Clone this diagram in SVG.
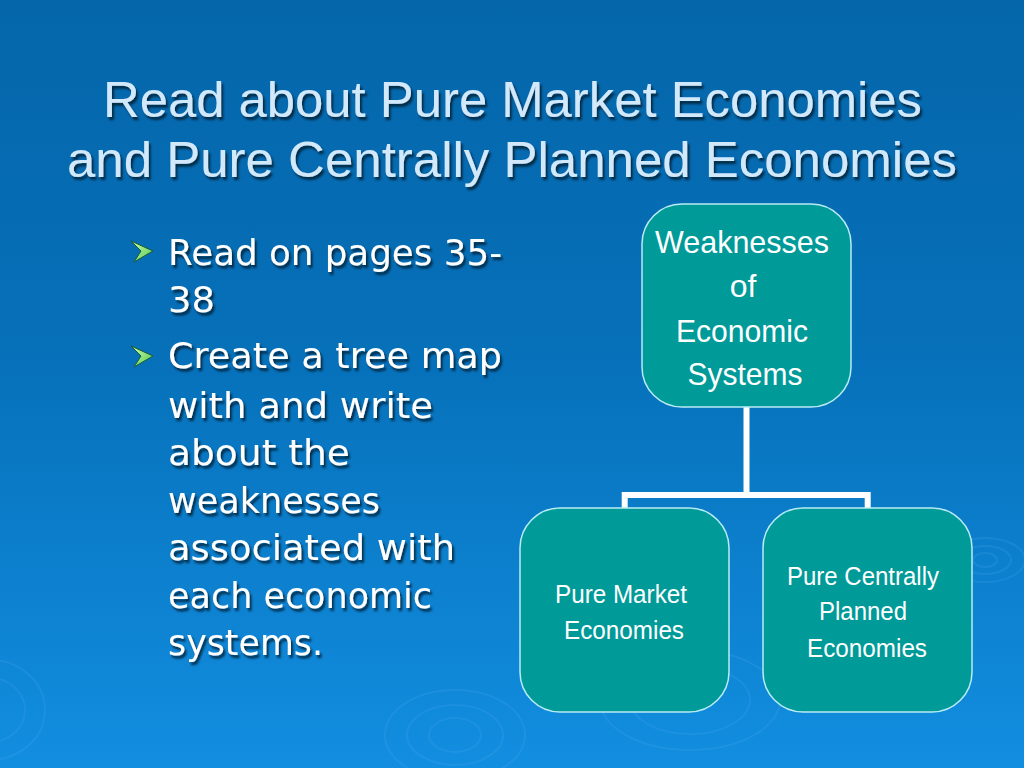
<svg xmlns="http://www.w3.org/2000/svg" width="1024" height="768" viewBox="0 0 1024 768">
<defs>
<linearGradient id="bg" x1="0" y1="0" x2="0" y2="1">
<stop offset="0" stop-color="#0566aa"/>
<stop offset="0.45" stop-color="#0670b9"/>
<stop offset="1" stop-color="#128ee0"/>
</linearGradient>
<linearGradient id="arrowFill" x1="0" y1="0" x2="1" y2="1">
<stop offset="0" stop-color="#d0ffb0"/>
<stop offset="1" stop-color="#50c850"/>
</linearGradient>
<filter id="shadow" x="-5%" y="-20%" width="110%" height="140%">
<feDropShadow dx="2" dy="3" stdDeviation="1" flood-color="#001a33" flood-opacity="0.85"/>
</filter>
</defs>
<style>
.title{font-family:"Liberation Sans",Arial,sans-serif;font-size:50px;fill:#d2e9fb;filter:url(#shadow);}
.bullet{font-family:"DejaVu Sans","Liberation Sans",sans-serif;font-size:35px;fill:#ffffff;filter:url(#shadow);}
.box{fill:#009a99;stroke:#b8ecf4;stroke-width:1.5;}
.boxText{font-family:"Liberation Sans",Arial,sans-serif;fill:#ffffff;text-anchor:middle;}
.big{font-size:32px;}
.small{font-size:25px;}
.conn{fill:none;stroke:#ffffff;stroke-width:6;stroke-linejoin:miter;stroke-linecap:butt;}
.ripple{fill:none;stroke:#4aa8ee;stroke-opacity:0.22;stroke-width:2;}
.arrow{fill:url(#arrowFill);stroke:#1f5a2a;stroke-width:1;stroke-linejoin:round;}
</style>
<rect x="0" y="0" width="1024" height="768" fill="url(#bg)"/>
<g id="ripples">
<ellipse class="ripple" cx="985" cy="560" rx="40" ry="22"/>
<ellipse class="ripple" cx="985" cy="560" rx="26" ry="14"/>
<ellipse class="ripple" cx="985" cy="560" rx="12" ry="7"/>
<ellipse class="ripple" cx="455" cy="735" rx="70" ry="45"/>
<ellipse class="ripple" cx="455" cy="735" rx="48" ry="30"/>
<ellipse class="ripple" cx="455" cy="735" rx="26" ry="17"/>
<ellipse class="ripple" cx="690" cy="700" rx="90" ry="50"/>
<ellipse class="ripple" cx="690" cy="700" rx="60" ry="34"/>
<ellipse class="ripple" cx="-10" cy="710" rx="55" ry="50"/>
<ellipse class="ripple" cx="-10" cy="710" rx="35" ry="32"/>
</g>
<g id="title">
<text class="title" x="103" y="117" textLength="819" lengthAdjust="spacingAndGlyphs">Read about Pure Market Economies</text>
<text class="title" x="67" y="177" textLength="890" lengthAdjust="spacingAndGlyphs">and Pure Centrally Planned Economies</text>
</g>
<g id="bullets">
<polygon class="arrow" points="131,241 153,251 134,262 141,251"/>
<polygon class="arrow" points="131,346 153,356 134,367 141,356"/>
<text class="bullet" x="168" y="265" textLength="334" lengthAdjust="spacingAndGlyphs">Read on pages 35-</text>
<text class="bullet" x="168" y="312" textLength="47" lengthAdjust="spacingAndGlyphs">38</text>
<text class="bullet" x="168" y="368" textLength="334" lengthAdjust="spacingAndGlyphs">Create a tree map</text>
<text class="bullet" x="168" y="418" textLength="265" lengthAdjust="spacingAndGlyphs">with and write</text>
<text class="bullet" x="168" y="465" textLength="182" lengthAdjust="spacingAndGlyphs">about the</text>
<text class="bullet" x="168" y="513" textLength="212" lengthAdjust="spacingAndGlyphs">weaknesses</text>
<text class="bullet" x="168" y="560" textLength="287" lengthAdjust="spacingAndGlyphs">associated with</text>
<text class="bullet" x="168" y="608" textLength="264" lengthAdjust="spacingAndGlyphs">each economic</text>
<text class="bullet" x="168" y="655" textLength="155" lengthAdjust="spacingAndGlyphs">systems.</text>
</g>
<g id="connectors">
<path class="conn" d="M746.5,407 V495"/>
<path class="conn" d="M624.7,508 V495 H867.7 V508"/>
</g>
<g id="node-weaknesses">
<rect class="box" x="642" y="204" width="209" height="203" rx="40" ry="40"/>
<text class="boxText big" x="742" y="253" textLength="174" lengthAdjust="spacingAndGlyphs">Weaknesses</text>
<text class="boxText big" x="743" y="297">of</text>
<text class="boxText big" x="742" y="342" textLength="132" lengthAdjust="spacingAndGlyphs">Economic</text>
<text class="boxText big" x="745" y="385" textLength="115" lengthAdjust="spacingAndGlyphs">Systems</text>
</g>
<g id="node-market">
<rect class="box" x="520" y="508" width="209" height="204" rx="40" ry="40"/>
<text class="boxText small" x="621" y="603" textLength="132" lengthAdjust="spacingAndGlyphs">Pure Market</text>
<text class="boxText small" x="624" y="639" textLength="120" lengthAdjust="spacingAndGlyphs">Economies</text>
</g>
<g id="node-planned">
<rect class="box" x="763" y="508" width="209" height="204" rx="40" ry="40"/>
<text class="boxText small" x="863" y="585" textLength="152" lengthAdjust="spacingAndGlyphs">Pure Centrally</text>
<text class="boxText small" x="863" y="620" textLength="88" lengthAdjust="spacingAndGlyphs">Planned</text>
<text class="boxText small" x="867" y="657" textLength="120" lengthAdjust="spacingAndGlyphs">Economies</text>
</g>
</svg>
